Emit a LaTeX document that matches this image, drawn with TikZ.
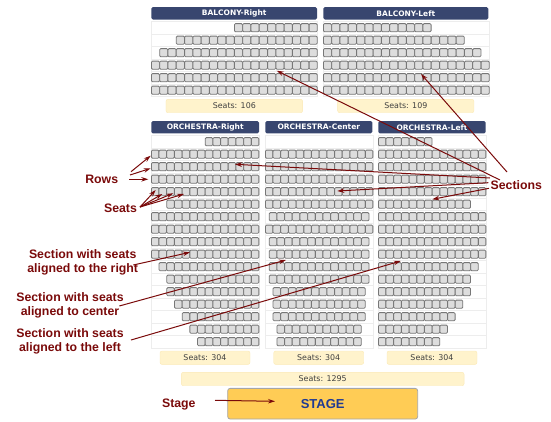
\documentclass[tikz,border=0pt]{standalone}
\usepackage{fontspec}
\setmainfont{Liberation Sans}
\newfontfamily\boxfont{DejaVu Sans}
\usetikzlibrary{arrows.meta}
\definecolor{headblue}{HTML}{38466F}
\definecolor{notered}{HTML}{7A0A0A}
\definecolor{seatfill}{HTML}{DDDDDD}
\definecolor{seatline}{HTML}{777777}
\definecolor{rowline}{HTML}{EDEDED}
\definecolor{countfill}{HTML}{FFF3CC}
\definecolor{countline}{HTML}{FBE9B5}
\definecolor{stagefill}{HTML}{FFCC55}
\definecolor{stageblue}{HTML}{1F3A93}
% left, full row length, seat pitch, shift factor, y of first row, seats in each row
\newcommand{\seatblock}[6]{
  \foreach \n [count=\i from 0] in {#6} {
    \pgfmathsetmacro{\rowy}{#5+12.5*\i}
    \pgfmathsetmacro{\rowx}{#1+(#2-\n)*#3*#4}
    \draw[rowline, fill=white] (#1,\rowy-6.25) rectangle (#1+#2*#3,\rowy+6.25);
    \ifnum\n>0
      \foreach \s in {1,...,\n} {
        \draw[seatline, fill=seatfill, line width=.8pt, rounded corners=1.1pt]
          (\rowx+\s*#3-#3+.1,\rowy-4.1) rectangle (\rowx+\s*#3-.1,\rowy+4.1);
      }
    \fi
  }
}
\begin{document}
\begin{tikzpicture}[x=1pt, y=-1pt,
  headbox/.style={fill=headblue, rounded corners=1.5pt, text=white, inner sep=0pt, font=\boxfont\bfseries\fontsize{7.5}{9}\selectfont},
  countbox/.style={draw=countline, fill=countfill, rounded corners=2pt, text=black!75, inner sep=0pt, minimum height=13.4pt, font=\boxfont\fontsize{7.9}{9}\selectfont},
  notetext/.style={text=notered, inner sep=0pt, align=center, font=\bfseries\fontsize{12.3}{14.2}\selectfont},
  notearrow/.style={notered, line width=1pt, -{Stealth[length=7pt,width=4.5pt]}}]
  \useasboundingbox (0,0) rectangle (551,421);

  \seatblock{151.3}{20}{8.3}{1}{27.7}{10,17,19,20,20,20}
  \seatblock{323.3}{20}{8.3}{0}{27.7}{13,17,19,20,20,20}
  \seatblock{151.3}{14}{7.69}{1}{141.7}{7,14,14,14,14,12,14,14,14,14,13,12,12,11,10,9,8}
  \seatblock{265.3}{14}{7.69}{.5}{141.7}{0,14,14,14,14,14,13,14,13,13,13,13,12,12,12,11,11}
  \seatblock{378.3}{14}{7.69}{0}{141.7}{7,14,14,14,14,12,14,14,14,14,13,12,12,11,10,9,8}

  \node[headbox, minimum width=165.7pt, minimum height=12.4pt] (balconyright) at (234.2,13.3) {BALCONY-Right};
  \node[headbox, minimum width=165pt, minimum height=12.4pt] (balconyleft) at (405.8,13.3) {BALCONY-Left};
  \node[headbox, minimum width=107.7pt, minimum height=12.3pt] (orchright) at (205.2,127.2) {ORCHESTRA-Right};
  \node[headbox, minimum width=107pt, minimum height=12.3pt] (orchcenter) at (318.8,127.2) {ORCHESTRA-Center};
  \node[headbox, minimum width=107.4pt, minimum height=12.3pt] (orchleft) at (432,127.2) {ORCHESTRA-Left};

  \node[countbox, minimum width=136.7pt] (countbr) at (234.3,106) {Seats: 106};
  \node[countbox, minimum width=136.3pt] (countbl) at (405.8,106) {Seats: 109};
  \node[countbox, minimum width=90pt] (countor) at (205,357.7) {Seats: 304};
  \node[countbox, minimum width=90pt] (countoc) at (318.7,357.7) {Seats: 304};
  \node[countbox, minimum width=90pt] (countol) at (432,357.7) {Seats: 304};
  \node[countbox, minimum width=282.7pt] (counttotal) at (322.7,379) {Seats: 1295};

  \node[draw=black!35, fill=stagefill, rounded corners=2.5pt, line width=.8pt, minimum width=190pt, minimum height=30.7pt, inner sep=0pt, text=stageblue, font=\bfseries\fontsize{13}{15}\selectfont] (stagebox) at (322.7,403.7) {STAGE};

  \node[notetext] (rows) at (101.7,179) {Rows};
  \node[notetext] (seats) at (120.5,208) {Seats};
  \node[notetext] (sections) at (516.3,185) {Sections};
  \node[notetext] (alignright) at (82.7,262.5) {Section with seats\\aligned to the right};
  \node[notetext] (aligncenter) at (70,305.5) {Section with seats\\aligned to center};
  \node[notetext] (alignleft) at (70,341.5) {Section with seats\\aligned to the left};
  \node[notetext] (stagelabel) at (178.8,404.5) {Stage};

  \coordinate (t1) at (500,180);
  \coordinate (h1) at (276.7,70.7);
  \coordinate (t2) at (507,172);
  \coordinate (h2) at (421,74);
  \coordinate (t3) at (490,178);
  \coordinate (h3) at (235,164.3);
  \coordinate (t4) at (488.3,182.7);
  \coordinate (h4) at (337.3,191);
  \coordinate (t5) at (489,188.3);
  \coordinate (h5) at (432.3,199.3);
  \coordinate (t6) at (131,171.7);
  \coordinate (h6) at (150.7,155.7);
  \coordinate (t7) at (130,175);
  \coordinate (h7) at (150.7,168.3);
  \coordinate (t8) at (129.3,179.3);
  \coordinate (h8) at (148.3,179.3);
  \coordinate (t9) at (140,207);
  \coordinate (h9) at (155.7,190);
  \coordinate (h10) at (162.3,194);
  \coordinate (h11) at (173.3,193.3);
  \coordinate (h12) at (184,194);
  \coordinate (t13) at (133.3,265);
  \coordinate (h13) at (190,252.3);
  \coordinate (t14) at (119.3,306);
  \coordinate (h14) at (286,260);
  \coordinate (t15) at (131,340);
  \coordinate (h15) at (400.7,261);
  \coordinate (t16) at (215,400.3);
  \coordinate (h16) at (275,401.3);

  \draw[notearrow] (t1) -- (h1);
  \draw[notearrow] (t2) -- (h2);
  \draw[notearrow] (t3) -- (h3);
  \draw[notearrow] (t4) -- (h4);
  \draw[notearrow] (t5) -- (h5);
  \draw[notearrow] (t6) -- (h6);
  \draw[notearrow] (t7) -- (h7);
  \draw[notearrow] (t8) -- (h8);
  \draw[notearrow] (t9) -- (h9);
  \draw[notearrow] (t9) -- (h10);
  \draw[notearrow] (t9) -- (h11);
  \draw[notearrow] (t9) -- (h12);
  \draw[notearrow] (t13) -- (h13);
  \draw[notearrow] (t14) -- (h14);
  \draw[notearrow] (t15) -- (h15);
  \draw[notearrow] (t16) -- (h16);
\end{tikzpicture}
\end{document}
